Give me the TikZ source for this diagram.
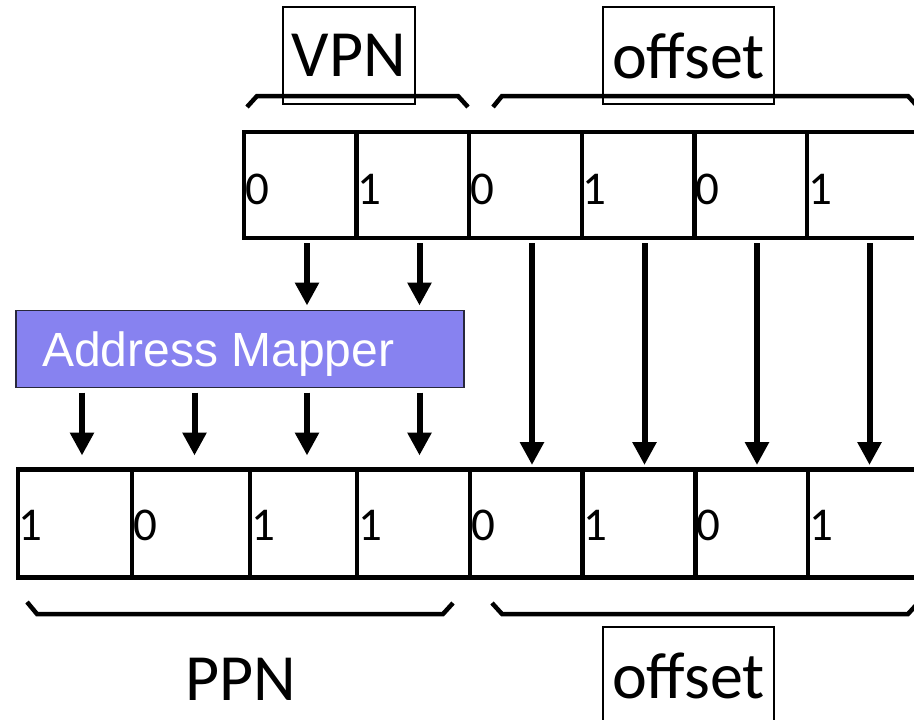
\documentclass[tikz,border=0pt]{standalone}
\usepackage{fontspec}
\setmainfont{Carlito}
\newfontfamily\mapperfont{Liberation Sans}
\usetikzlibrary{arrows.meta,calc}
\definecolor{mapperfill}{RGB}{135,130,240}
\definecolor{mapperedge}{RGB}{40,40,60}

\begin{document}
\begin{tikzpicture}[x=1pt,y=-1pt,
  bitcell/.style={draw=black,line width=4.5pt,inner sep=0pt,outer sep=0pt},
  bit/.style={font=\fontsize{47}{47}\selectfont,inner sep=0pt,outer sep=0pt,anchor=base west},
  field/.style={draw=black,line width=1.6pt,inner sep=0pt,outer sep=0pt,minimum height=97pt,
                font=\fontsize{66}{70}\selectfont},
  biglabel/.style={inner sep=0pt,font=\fontsize{66}{70}\selectfont},
  brace/.style={line width=4.5pt,line join=miter},
  arr/.style={line width=6pt,-{Triangle[width=23pt,length=23pt]}},
  mapper/.style={draw=mapperedge,fill=mapperfill,line width=1.5pt,inner sep=0pt,outer sep=0pt}
]
\useasboundingbox (0,0) rectangle (914,720);
\clip (0,0) rectangle (914,720);

% arrow columns
\foreach \k/\x in {1/82,2/194.5,3/307,4/419.5,5/532,6/644.5,7/757,8/869.5}
  \coordinate (col\k) at (\x,0);

% virtual address bits
\foreach \i/\c/\w/\d in {1/300.3/112.6/0,2/412.9/112.6/1,3/525.5/112.6/0,
                         4/638.1/112.6/1,5/750.7/112.6/0,6/863.3/112.6/1} {
  \node[bitcell,minimum width=\w pt,minimum height=106pt] (t\i) at (\c,185) {};
  \node[bit] (tb\i) at ($(t\i.west)+(1,19)$) {\d};
}

% physical address bits
\foreach \i/\c/\w/\d in {1/75/114/1,2/191/118/0,3/303.5/107/1,4/413.5/113/1,
                         5/526.4/112.6/0,6/639.1/112.6/1,7/751.7/112.6/0,8/864.3/112.6/1} {
  \node[bitcell,minimum width=\w pt,minimum height=108pt] (b\i) at (\c,523.5) {};
  \node[bit] (bb\i) at ($(b\i.west)+(1,16.5)$) {\d};
}

% address mapper
\node[mapper,minimum width=448pt,minimum height=77pt] (am) at (240,349) {};
\node[inner sep=0pt,anchor=base west,text=white,font=\mapperfont\fontsize{48}{50}\selectfont]
  (amtext) at (42,366) {Address Mapper};

% braces
\draw[brace] (247,107) -- (257,96) -- (458,96) -- (468,107);
\draw[brace] (493,107) -- (502,96) -- (908,96) -- (918,107);
\draw[brace] (27,602) -- (37,614) -- (443,614) -- (453,603);
\draw[brace] (492,603) -- (502,614) -- (908,614) -- (918,603);

% field labels
\node[field,minimum width=132pt] (vpn) at (349,55.5) {VPN};
\node[field,minimum width=171pt] (offtop) at (688.5,55.5) {offset};
\node[field,minimum width=171pt] (offbot) at (688.5,675.5) {offset};
\node[biglabel] (ppn) at (241,679) {PPN};

% VPN bits into the mapper
\foreach \t/\c in {1/3,2/4}
  \draw[arr] ($(t\t.south -| col\c)+(0,5)$) -- ($(am.north -| col\c)+(0,-5)$);

% mapper output to PPN bits
\foreach \c in {1,...,4}
  \draw[arr] ($(am.south -| col\c)+(0,5)$) -- ($(b\c.north -| col\c)+(0,-14)$);

% offset bits copied straight through
\foreach \t/\c in {3/5,4/6,5/7,6/8}
  \draw[arr] ($(t\t.south -| col\c)+(0,5)$) -- ($(b\c.north -| col\c)+(0,-4.5)$);
\end{tikzpicture}
\end{document}
